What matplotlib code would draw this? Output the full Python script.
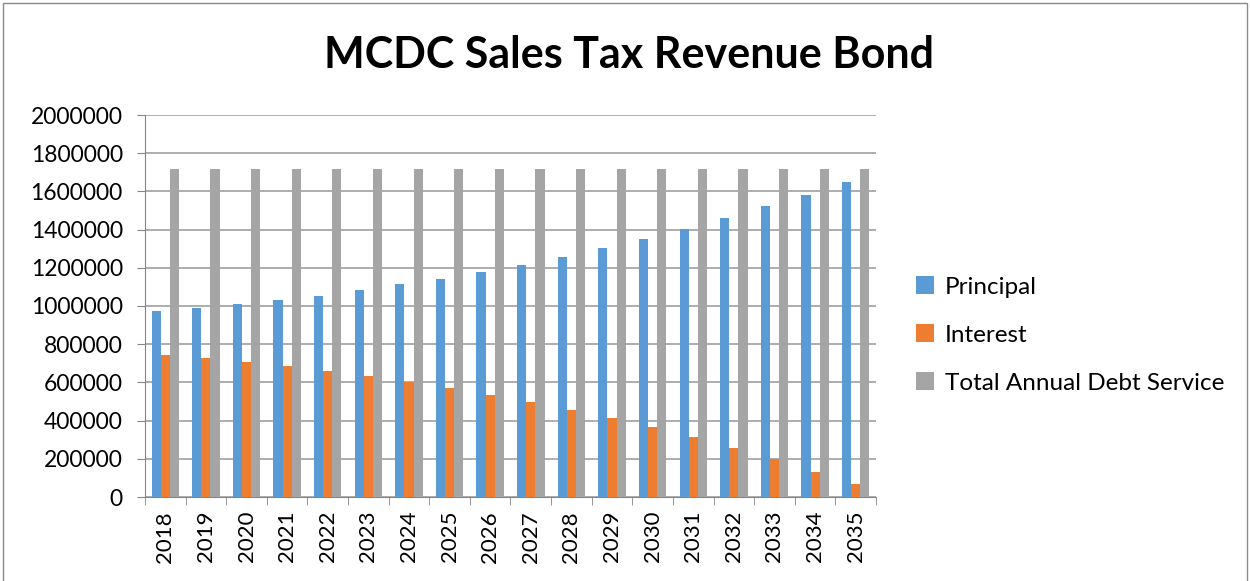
import numpy as np
import matplotlib.pyplot as plt
from matplotlib.patches import Rectangle

# values
years = [str(y) for y in range(2018, 2036)]
principal = [973000, 989000, 1010000, 1029000, 1053000, 1083000, 1114000, 1142000, 1177000,
             1217000, 1257000, 1302000, 1352000, 1402000, 1462000, 1522000, 1582000, 1647000]
interest = [745000, 729000, 709000, 688000, 662000, 635000, 604000, 573000, 536000,
            500000, 458000, 413000, 366000, 315000, 258000, 199000, 133000, 68000]
total = [1717000, 1718000, 1719000, 1717000, 1717000, 1718000, 1718000, 1716000, 1716000,
         1717000, 1716000, 1716000, 1718000, 1718000, 1719000, 1719000, 1717000, 1716000]

plt.rcParams['font.family'] = ['Lato', 'DejaVu Sans']

fig = plt.figure(figsize=(12.5, 5.81), dpi=100)
ax = fig.add_axes([145 / 1250, 1 - 497 / 581, (876 - 145) / 1250, (497 - 115) / 581])

x = np.arange(len(years))
w = 0.225
ax.bar(x - w, principal, w, color='#5b9bd5', label='Principal', zorder=3)
ax.bar(x, interest, w, color='#ed7d31', label='Interest', zorder=3)
ax.bar(x + w, total, w, color='#a5a5a5', label='Total Annual Debt Service', zorder=3)

ax.set_xlim(-0.5, len(years) - 0.5)
ax.set_ylim(0, 2000000)
ax.set_yticks(range(0, 2000001, 200000))
ax.set_yticklabels([str(v) for v in range(0, 2000001, 200000)], fontsize=16.5)
ax.set_xticks(x)
ax.set_xticklabels(years, rotation=90, fontsize=16)
ax.set_xticks(np.arange(-0.5, len(years), 1), minor=True)
ax.tick_params(axis='x', which='major', length=0, pad=10)
ax.tick_params(axis='x', which='minor', length=6, color='#868686')
ax.tick_params(axis='y', length=6, color='#868686', pad=10)

ax.grid(axis='y', color='#a0a0a0', linewidth=1.2, zorder=0)
for s in ['top', 'right']:
    ax.spines[s].set_visible(False)
ax.spines['left'].set_color('#868686')
ax.spines['bottom'].set_color('#868686')

fig.text(629 / 1250, 1 - 55 / 581, 'MCDC Sales Tax Revenue Bond', ha='center', va='center',
         fontsize=31, fontweight='bold')

fig.legend(loc='center left', bbox_to_anchor=(906 / 1250, 1 - 335 / 581), frameon=False,
           fontsize=17.5, handlelength=0.75, handleheight=0.75, labelspacing=1.1,
           handletextpad=0.45, borderaxespad=0)

fig.patches.append(Rectangle((3 / 1250, -0.01), 1244 / 1250, 1 - 3 / 581 + 0.01,
                             transform=fig.transFigure, fill=False, edgecolor='#8a8a8a', linewidth=1))

fig.savefig('out.png', dpi=100)
